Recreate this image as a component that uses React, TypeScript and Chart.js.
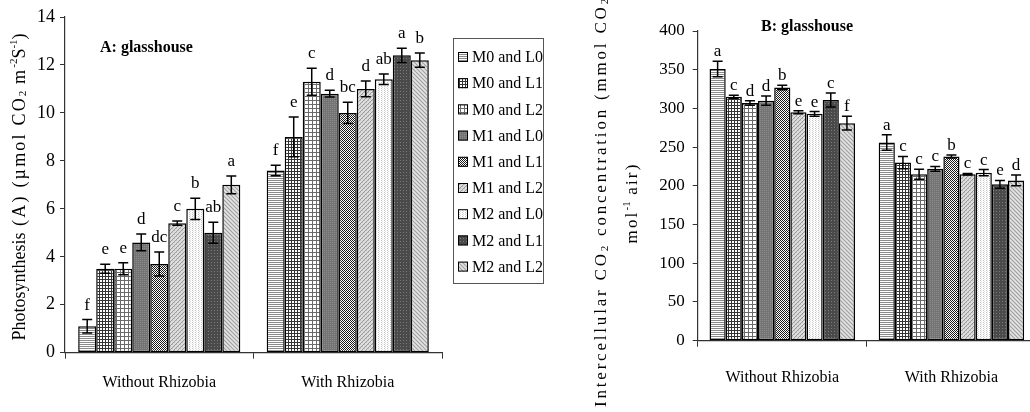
import React, { useEffect, useRef } from 'react';
import { Chart, registerables } from 'chart.js';

Chart.register(...registerables);

const FONT = '"Liberation Serif", "Times New Roman", serif';

const categories = ['Without Rhizobia', 'With Rhizobia'];
const treatments = ['M0 and L0', 'M0 and L1', 'M0 and L2', 'M1 and L0', 'M1 and L1', 'M1 and L2', 'M2 and L0', 'M2 and L1', 'M2 and L2'];

// Panel A: photosynthesis
const photoWithout = [1.1, 3.5, 3.5, 4.6, 3.7, 5.4, 6.0, 5.0, 7.0];
const photoWith = [7.6, 9.0, 11.3, 10.8, 10.0, 11.0, 11.4, 12.4, 12.2];
const photoErrWithout = [0.28, 0.19, 0.25, 0.35, 0.5, 0.09, 0.44, 0.44, 0.37];
const photoErrWith = [0.22, 0.83, 0.56, 0.14, 0.44, 0.33, 0.22, 0.3, 0.3];
const photoLettersWithout = ['f', 'e', 'e', 'd', 'dc', 'c', 'b', 'ab', 'a'];
const photoLettersWith = ['f', 'e', 'c', 'd', 'bc', 'd', 'ab', 'a', 'b'];

// Panel B: intercellular CO2
const co2Without = [351, 315, 307, 310, 327, 295, 293, 311, 281];
const co2With = [256, 230, 215, 222, 238, 215, 217, 202, 207];
const co2ErrWithout = [10, 2, 3, 6, 3, 2, 3, 9, 9];
const co2ErrWith = [10, 8, 6.5, 3, 2, 1, 4, 5, 7];
const co2LettersWithout = ['a', 'c', 'd', 'd', 'b', 'e', 'e', 'c', 'f'];
const co2LettersWith = ['a', 'c', 'c', 'c', 'b', 'c', 'c', 'e', 'd'];

function makePattern(w: number, h: number, draw: (c: CanvasRenderingContext2D) => void) {
  const cv = document.createElement('canvas');
  cv.width = w;
  cv.height = h;
  const c = cv.getContext('2d')!;
  draw(c);
  return c.createPattern(cv, 'repeat')!;
}

function px(c: CanvasRenderingContext2D, x: number, y: number, col: string) {
  c.fillStyle = col;
  c.fillRect(x, y, 1, 1);
}

function buildPatterns() {
  return [
    makePattern(2, 2, (c) => {
      c.fillStyle = '#fff'; c.fillRect(0, 0, 2, 2);
      c.fillStyle = '#8a8a8a'; c.fillRect(0, 0, 2, 1);
    }),
    makePattern(3, 3, (c) => {
      c.fillStyle = '#fff'; c.fillRect(0, 0, 3, 3);
      c.fillStyle = '#333'; c.fillRect(0, 0, 3, 1); c.fillRect(0, 0, 1, 3);
    }),
    makePattern(4, 4, (c) => {
      c.fillStyle = '#fff'; c.fillRect(0, 0, 4, 4);
      c.fillStyle = '#6a6a6a'; c.fillRect(0, 0, 4, 1); c.fillRect(0, 0, 1, 4);
    }),
    makePattern(2, 2, (c) => {
      c.fillStyle = '#747474'; c.fillRect(0, 0, 2, 2);
      px(c, 0, 0, '#8c8c8c');
    }),
    makePattern(2, 2, (c) => {
      c.fillStyle = '#fff'; c.fillRect(0, 0, 2, 2);
      px(c, 0, 0, '#1a1a1a'); px(c, 1, 1, '#1a1a1a');
    }),
    makePattern(4, 4, (c) => {
      c.fillStyle = '#dedede'; c.fillRect(0, 0, 4, 4);
      for (let i = 0; i < 4; i++) px(c, i, 3 - i, '#9a9a9a');
      px(c, 0, 0, '#bdbdbd'); px(c, 2, 2, '#bdbdbd');
    }),
    makePattern(3, 2, (c) => {
      c.fillStyle = '#fff'; c.fillRect(0, 0, 3, 2);
      px(c, 0, 0, '#c4c4c4'); px(c, 1, 1, '#e2e2e2');
    }),
    makePattern(3, 3, (c) => {
      c.fillStyle = '#4a4a4a'; c.fillRect(0, 0, 3, 3);
      px(c, 1, 1, '#7a7a7a');
    }),
    makePattern(4, 4, (c) => {
      c.fillStyle = '#cfcfcf'; c.fillRect(0, 0, 4, 4);
      for (let i = 0; i < 4; i++) px(c, i, i, '#a2a2a2');
      for (let i = 0; i < 4; i++) px(c, i, (i + 2) % 4, '#e4e4e4');
    }),
  ];
}

type Run = { t: string; size: number; sp?: number; dy?: number; bold?: boolean };

function drawRuns(ctx: CanvasRenderingContext2D, runs: Run[], cx: number, cy: number, rotate: boolean, align: 'center' | 'start') {
  ctx.save();
  ctx.translate(cx, cy);
  if (rotate) ctx.rotate(-Math.PI / 2);
  ctx.textBaseline = 'middle';
  ctx.textAlign = 'left';
  ctx.fillStyle = '#000';
  const widths = runs.map((r) => {
    ctx.font = `${r.bold ? 'bold ' : ''}${r.size}px ${FONT}`;
    let w = 0;
    for (const ch of r.t) w += ctx.measureText(ch).width + (r.sp || 0);
    return w;
  });
  const total = widths.reduce((a, b) => a + b, 0);
  let x = align === 'center' ? -total / 2 : 0;
  runs.forEach((r) => {
    ctx.font = `${r.bold ? 'bold ' : ''}${r.size}px ${FONT}`;
    for (const ch of r.t) {
      ctx.fillText(ch, x, r.dy || 0);
      x += ctx.measureText(ch).width + (r.sp || 0);
    }
  });
  ctx.restore();
}

const errorPlugin = {
  id: 'errs',
  afterDatasetsDraw(chart: any, _args: any, opts: any) {
    const { ctx } = chart;
    const y = chart.scales.y;
    ctx.save();
    chart.data.datasets.forEach((ds: any, di: number) => {
      const meta = chart.getDatasetMeta(di);
      meta.data.forEach((bar: any, i: number) => {
        const v = ds.data[i];
        const e = ds.errors[i];
        const top = y.getPixelForValue(v + e);
        const bot = y.getPixelForValue(v - e);
        ctx.strokeStyle = '#000';
        ctx.lineWidth = 1.5;
        ctx.beginPath();
        ctx.moveTo(bar.x, top); ctx.lineTo(bar.x, bot);
        ctx.moveTo(bar.x - opts.cap, top); ctx.lineTo(bar.x + opts.cap, top);
        ctx.moveTo(bar.x - opts.cap, bot); ctx.lineTo(bar.x + opts.cap, bot);
        ctx.stroke();
        ctx.fillStyle = '#000';
        ctx.font = `${opts.size}px ${FONT}`;
        ctx.textAlign = 'center';
        ctx.textBaseline = 'alphabetic';
        ctx.fillText(ds.letters[i], bar.x, top - opts.gap);
      });
    });
    ctx.restore();
  },
};

const decorPlugin = {
  id: 'decor',
  afterDraw(chart: any, _args: any, opts: any) {
    const { ctx } = chart;
    if (opts.draw) opts.draw(ctx, chart);
  },
};

function makeDatasets(a: number[], b: number[], ea: number[], eb: number[], la: string[], lb: string[], patterns: CanvasPattern[]) {
  return treatments.map((t, i) => ({
    label: t,
    data: [a[i], b[i]],
    errors: [ea[i], eb[i]],
    letters: [la[i], lb[i]],
    backgroundColor: patterns[i],
    borderColor: '#000',
    borderWidth: 1.5,
    borderSkipped: false,
    categoryPercentage: 0.86,
    barPercentage: 1,
  }));
}

export default function App() {
  const refA = useRef<HTMLCanvasElement>(null);
  const refB = useRef<HTMLCanvasElement>(null);

  useEffect(() => {
    const patterns = buildPatterns();
    const axisColor = '#333';

    const chartA = new Chart(refA.current!, {
      type: 'bar',
      data: {
        labels: categories,
        datasets: makeDatasets(photoWithout, photoWith, photoErrWithout, photoErrWith, photoLettersWithout, photoLettersWith, patterns) as any,
      },
      options: {
        animation: false,
        responsive: false,
        maintainAspectRatio: false,
        layout: { padding: { top: 17, right: 118, left: 0, bottom: 0 } },
        plugins: {
          legend: { display: false },
          tooltip: { enabled: false },
          errs: { cap: 5, gap: 10, size: 17 },
          decor: {
            draw: (ctx: CanvasRenderingContext2D) => {
              drawRuns(ctx, [{ t: 'A: glasshouse', size: 16, bold: true }], 100, 48, false, 'start');
              drawRuns(ctx, [
                { t: 'Photosynthesis', size: 18 },
                { t: ' (A) (µmol CO', size: 18, sp: 2.2 },
                { t: '2', size: 11, dy: 3 },
                { t: ' m', size: 18, sp: 2.2 },
                { t: '-2', size: 11, dy: -6 },
                { t: 'S', size: 18 },
                { t: '-1', size: 11, dy: -6 },
                { t: ')', size: 18 },
              ], 20, 187, true, 'center');
              ctx.save();
              ctx.strokeStyle = '#555';
              ctx.lineWidth = 1;
              ctx.strokeRect(453.5, 38.5, 90, 245);
              treatments.forEach((t, i) => {
                const cy = 57 + i * 26.2;
                ctx.fillStyle = patterns[i];
                ctx.fillRect(458, cy - 5, 10, 10);
                ctx.strokeStyle = '#000';
                ctx.lineWidth = 1;
                ctx.strokeRect(458.5, cy - 4.5, 9, 9);
                ctx.fillStyle = '#000';
                ctx.font = `16px ${FONT}`;
                ctx.textAlign = 'left';
                ctx.textBaseline = 'middle';
                ctx.fillText(t, 472, cy + 1);
              });
              ctx.restore();
            },
          },
        } as any,
        scales: {
          x: {
            grid: { display: true, drawOnChartArea: false, offset: true, tickLength: 6, color: axisColor },
            border: { color: axisColor, width: 1.2 },
            ticks: { font: { family: FONT, size: 16 }, color: '#000', padding: 14 },
            afterFit: (s: any) => { s.height = 59.3; },
          },
          y: {
            min: 0,
            max: 14,
            ticks: { stepSize: 2, font: { family: FONT, size: 18 }, color: '#000', padding: 5 },
            grid: { drawOnChartArea: false, tickLength: 5, color: axisColor },
            border: { color: axisColor, width: 1.2 },
            afterFit: (s: any) => { s.width = 65; },
          },
        },
      },
      plugins: [errorPlugin, decorPlugin],
    });

    const chartB = new Chart(refB.current!, {
      type: 'bar',
      data: {
        labels: categories,
        datasets: makeDatasets(co2Without, co2With, co2ErrWithout, co2ErrWith, co2LettersWithout, co2LettersWith, patterns) as any,
      },
      options: {
        animation: false,
        responsive: false,
        maintainAspectRatio: false,
        layout: { padding: { top: 31, right: 4, left: 0, bottom: 0 } },
        plugins: {
          legend: { display: false },
          tooltip: { enabled: false },
          errs: { cap: 5, gap: 5, size: 17 },
          decor: {
            draw: (ctx: CanvasRenderingContext2D) => {
              drawRuns(ctx, [{ t: 'B: glasshouse', size: 16, bold: true }], 247, 27, false, 'center');
              drawRuns(ctx, [
                { t: 'Intercellular CO', size: 17, sp: 2.8 },
                { t: '2', size: 11, dy: 3, sp: 2.8 },
                { t: ' concentration (mmol CO', size: 17, sp: 2.8 },
                { t: '2', size: 11, dy: 3 },
              ], 42, 407, true, 'start');
              drawRuns(ctx, [
                { t: 'mol', size: 17, sp: 2.2 },
                { t: '-1', size: 11, dy: -6 },
                { t: ' air)', size: 17, sp: 2.2 },
              ], 73, 203, true, 'center');
            },
          },
        } as any,
        scales: {
          x: {
            grid: { display: true, drawOnChartArea: false, offset: true, tickLength: 6, color: axisColor },
            border: { color: axisColor, width: 1.2 },
            ticks: { font: { family: FONT, size: 16 }, color: '#000', padding: 21 },
            afterFit: (s: any) => { s.height = 71.3; },
          },
          y: {
            min: 0,
            max: 400,
            ticks: { stepSize: 50, font: { family: FONT, size: 17 }, color: '#000', padding: 8 },
            grid: { drawOnChartArea: false, tickLength: 5, color: axisColor },
            border: { color: axisColor, width: 1.2 },
            afterFit: (s: any) => { s.width = 137.7; },
          },
        },
      },
      plugins: [errorPlugin, decorPlugin],
    });

    return () => {
      chartA.destroy();
      chartB.destroy();
    };
  }, []);

  return (
    <div style={{ position: 'fixed', left: 0, top: 0, width: 1030, height: 412, overflow: 'hidden', background: '#fff' }}>
      <canvas ref={refA} width={560} height={412} style={{ position: 'absolute', left: 0, top: 0, width: 560, height: 412 }} />
      <canvas ref={refB} width={480} height={412} style={{ position: 'absolute', left: 560, top: 0, width: 480, height: 412 }} />
    </div>
  );
}
